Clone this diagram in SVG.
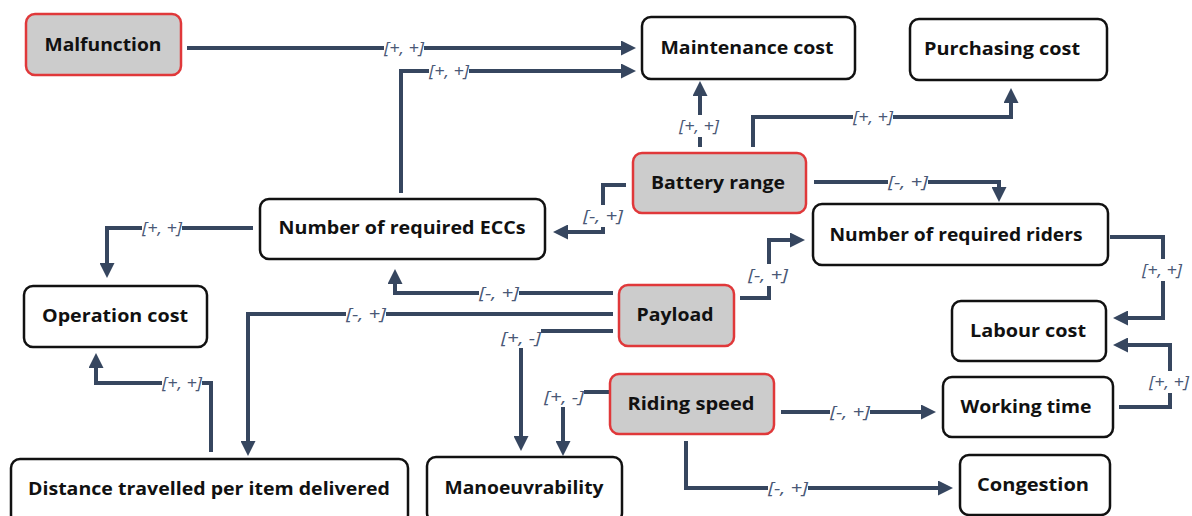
<svg xmlns="http://www.w3.org/2000/svg" width="1192" height="516" viewBox="0 0 1192 516">
<defs>
<style>
.n rect{fill:#fff;stroke:#111;stroke-width:2.5}
.r rect{fill:#cccccc;stroke:#e0383a;stroke-width:2.5}
.n text,.r text{font-family:"Open Sans","Liberation Sans",sans-serif;font-weight:700;font-size:18px;fill:#111;text-anchor:middle}
.c path{fill:none;stroke:#36465f;stroke-width:4}
.l rect{fill:#fff}
.l text{font-family:"Open Sans","Liberation Sans",sans-serif;font-style:italic;font-size:16px;fill:#4a5876;text-anchor:middle}
</style>
<marker id="a" markerUnits="userSpaceOnUse" viewBox="0 0 15 15" refX="1" refY="7.5" markerWidth="15" markerHeight="15" orient="auto">
<path d="M0,0 L15,7.5 L0,15 z" fill="#36465f"/>
</marker>
</defs>
<rect width="1192" height="516" fill="#fff"/>
<g id="connectors" class="c">
<path marker-end="url(#a)" d="M187,48 H622"/>
<path marker-end="url(#a)" d="M401,193 V71 H622"/>
<path marker-end="url(#a)" d="M700,147 V95"/>
<path marker-end="url(#a)" d="M753,147 V117 H1011 V102"/>
<path marker-end="url(#a)" d="M814,182 H999 V188"/>
<path marker-end="url(#a)" d="M626,185 H603 V232 H567"/>
<path marker-end="url(#a)" d="M253,228 H107 V264"/>
<path marker-end="url(#a)" d="M613,293 H395 V283"/>
<path marker-end="url(#a)" d="M613,314 H248 V442"/>
<path marker-end="url(#a)" d="M613,331 H521 V437"/>
<path marker-end="url(#a)" d="M609,392 H563 V442"/>
<path marker-end="url(#a)" d="M740,298 H769 V240 H791"/>
<path marker-end="url(#a)" d="M1110,237 H1163 V318 H1127"/>
<path marker-end="url(#a)" d="M1119,407 H1170 V345 H1127"/>
<path marker-end="url(#a)" d="M781,412 H922"/>
<path marker-end="url(#a)" d="M686,441 V488 H939"/>
<path marker-end="url(#a)" d="M211,452 V383 H96 V367"/>
</g>
<g id="labels" class="l">
<rect x="384" y="39" width="40" height="18"/><text x="404" y="54" textLength="40" lengthAdjust="spacingAndGlyphs">[+, +]</text>
<rect x="429" y="62" width="40" height="18"/><text x="449" y="77" textLength="40" lengthAdjust="spacingAndGlyphs">[+, +]</text>
<rect x="679" y="115" width="40" height="22"/><text x="699" y="132" textLength="40" lengthAdjust="spacingAndGlyphs">[+, +]</text>
<rect x="853" y="108" width="40" height="18"/><text x="873" y="123" textLength="40" lengthAdjust="spacingAndGlyphs">[+, +]</text>
<rect x="888" y="173" width="40" height="18"/><text x="908" y="188" textLength="40" lengthAdjust="spacingAndGlyphs">[-, +]</text>
<rect x="583" y="205" width="40" height="22"/><text x="603" y="222" textLength="40" lengthAdjust="spacingAndGlyphs">[-, +]</text>
<rect x="142" y="219" width="40" height="18"/><text x="162" y="234" textLength="40" lengthAdjust="spacingAndGlyphs">[+, +]</text>
<rect x="479" y="284" width="40" height="18"/><text x="499" y="299" textLength="40" lengthAdjust="spacingAndGlyphs">[-, +]</text>
<rect x="346" y="305" width="40" height="18"/><text x="366" y="320" textLength="40" lengthAdjust="spacingAndGlyphs">[-, +]</text>
<rect x="501" y="329" width="40" height="19"/><text x="521" y="344" textLength="40" lengthAdjust="spacingAndGlyphs">[+, -]</text>
<rect x="544" y="388" width="40" height="19"/><text x="564" y="403" textLength="40" lengthAdjust="spacingAndGlyphs">[+, -]</text>
<rect x="748" y="264" width="40" height="22"/><text x="768" y="281" textLength="40" lengthAdjust="spacingAndGlyphs">[-, +]</text>
<rect x="1142" y="259" width="40" height="22"/><text x="1162" y="276" textLength="40" lengthAdjust="spacingAndGlyphs">[+, +]</text>
<rect x="1149" y="371" width="40" height="22"/><text x="1169" y="388" textLength="40" lengthAdjust="spacingAndGlyphs">[+, +]</text>
<rect x="830" y="403" width="40" height="18"/><text x="850" y="418" textLength="40" lengthAdjust="spacingAndGlyphs">[-, +]</text>
<rect x="768" y="479" width="40" height="18"/><text x="788" y="494" textLength="40" lengthAdjust="spacingAndGlyphs">[-, +]</text>
<rect x="162" y="374" width="40" height="18"/><text x="182" y="389" textLength="40" lengthAdjust="spacingAndGlyphs">[+, +]</text>
</g>
<g id="malfunction" class="r"><rect x="26" y="14" width="155" height="61" rx="9"/><text x="103" y="51" textLength="117" lengthAdjust="spacingAndGlyphs">Malfunction</text></g>
<g id="maintenance" class="n"><rect x="642" y="17" width="213" height="62" rx="9"/><text x="747" y="54" textLength="173" lengthAdjust="spacingAndGlyphs">Maintenance cost</text></g>
<g id="purchasing" class="n"><rect x="910" y="19" width="197" height="61" rx="9"/><text x="1002" y="55" textLength="156" lengthAdjust="spacingAndGlyphs">Purchasing cost</text></g>
<g id="battery" class="r"><rect x="633" y="153" width="173" height="60" rx="9"/><text x="718" y="189" textLength="134" lengthAdjust="spacingAndGlyphs">Battery range</text></g>
<g id="eccs" class="n"><rect x="260" y="199" width="285" height="60" rx="9"/><text x="402" y="234" textLength="247" lengthAdjust="spacingAndGlyphs">Number of required ECCs</text></g>
<g id="riders" class="n"><rect x="813" y="204" width="295" height="61" rx="9"/><text x="956" y="241" textLength="253" lengthAdjust="spacingAndGlyphs">Number of required riders</text></g>
<g id="operation" class="n"><rect x="24" y="286" width="183" height="61" rx="9"/><text x="115" y="322" textLength="146" lengthAdjust="spacingAndGlyphs">Operation cost</text></g>
<g id="payload" class="r"><rect x="619" y="285" width="115" height="61" rx="9"/><text x="675" y="321" textLength="77" lengthAdjust="spacingAndGlyphs">Payload</text></g>
<g id="labour" class="n"><rect x="952" y="301" width="154" height="60" rx="9"/><text x="1028" y="337" textLength="116" lengthAdjust="spacingAndGlyphs">Labour cost</text></g>
<g id="riding" class="r"><rect x="610" y="374" width="164" height="60" rx="9"/><text x="691" y="410" textLength="127" lengthAdjust="spacingAndGlyphs">Riding speed</text></g>
<g id="working" class="n"><rect x="943" y="377" width="170" height="60" rx="9"/><text x="1026" y="413" textLength="131" lengthAdjust="spacingAndGlyphs">Working time</text></g>
<g id="distance" class="n"><rect x="11" y="459" width="397" height="65" rx="9"/><text x="209" y="495" textLength="362" lengthAdjust="spacingAndGlyphs">Distance travelled per item delivered</text></g>
<g id="manoeuvrability" class="n"><rect x="427" y="457" width="195" height="65" rx="9"/><text x="524" y="494" textLength="159" lengthAdjust="spacingAndGlyphs">Manoeuvrability</text></g>
<g id="congestion" class="n"><rect x="960" y="455" width="150" height="60" rx="9"/><text x="1033" y="491" textLength="112" lengthAdjust="spacingAndGlyphs">Congestion</text></g>
</svg>
